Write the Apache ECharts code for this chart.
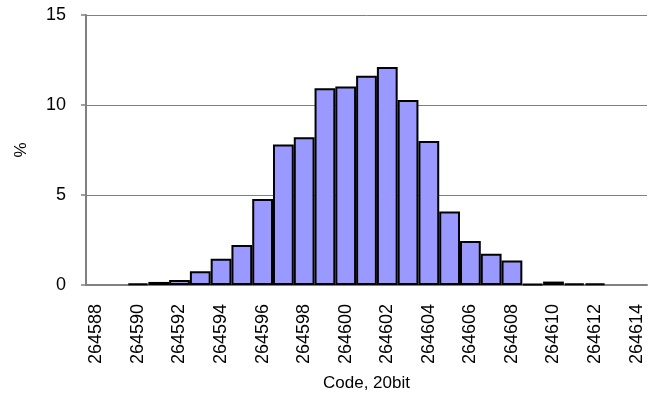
<!DOCTYPE html>
<html>
<head>
<meta charset="utf-8">
<script src="https://cdn.jsdelivr.net/npm/echarts@6/dist/echarts.min.js"></script>
<style>
  html, body { margin: 0; padding: 0; background: #fff; }
  #chart { width: 655px; height: 400px; }
</style>
</head>
<body>
<div id="chart"></div>
<script>
// codes 264588 .. 264614
const codes = ['264588', '264589', '264590', '264591', '264592', '264593', '264594',
  '264595', '264596', '264597', '264598', '264599', '264600', '264601', '264602',
  '264603', '264604', '264605', '264606', '264607', '264608', '264609', '264610',
  '264611', '264612', '264613', '264614']
// percent of samples per code
const percent = [0, 0, 0.08, 0.17, 0.28, 0.76, 1.46, 2.22, 4.78, 7.8, 8.21, 10.93, 11.03,
  11.62, 12.11, 10.28, 8.0, 4.09, 2.44, 1.74, 1.36, 0.06, 0.19, 0.09, 0.09, 0, 0]
const yTicks = [0, 5, 10, 15]

const chart = echarts.init(document.getElementById('chart'))
const font = 'Liberation Sans, Arial, sans-serif'
chart.setOption({
  animation: false,
  textStyle: { fontFamily: font },
  grid: { left: 86, right: 8, top: 15, bottom: 115 },
  xAxis: {
    type: 'category',
    data: codes,
    name: 'Code, 20bit',
    nameLocation: 'middle',
    nameGap: 90,
    nameTextStyle: { color: '#000', fontSize: 17, fontFamily: font },
    axisLine: { lineStyle: { color: '#808080', width: 2 } },
    axisTick: { interval: 0, length: 5, lineStyle: { color: '#808080', width: 1.5 } },
    axisLabel: {
      interval: 1,
      rotate: 90,
      margin: 19,
      color: '#000',
      fontSize: 18,
      fontFamily: font
    }
  },
  yAxis: {
    type: 'value',
    min: yTicks[0],
    max: yTicks[yTicks.length - 1],
    interval: 5,
    name: '%',
    nameLocation: 'middle',
    nameRotate: 90,
    nameGap: 56,
    nameTextStyle: { color: '#000', fontSize: 17, fontFamily: font },
    axisLine: { show: true, lineStyle: { color: '#808080', width: 2 } },
    axisTick: { show: true, length: 5, lineStyle: { color: '#808080', width: 1.5 } },
    axisLabel: { margin: 20, color: '#000', fontSize: 18, fontFamily: font },
    splitLine: { lineStyle: { color: '#808080', width: 1 } }
  },
  series: [{
    type: 'bar',
    // empty bins draw nothing
    data: percent.map(v => (v === 0 ? null : v)),
    barCategoryGap: 0,
    itemStyle: { color: '#9999ff', borderColor: '#000', borderWidth: 2 }
  }]
})
</script>
</body>
</html>
